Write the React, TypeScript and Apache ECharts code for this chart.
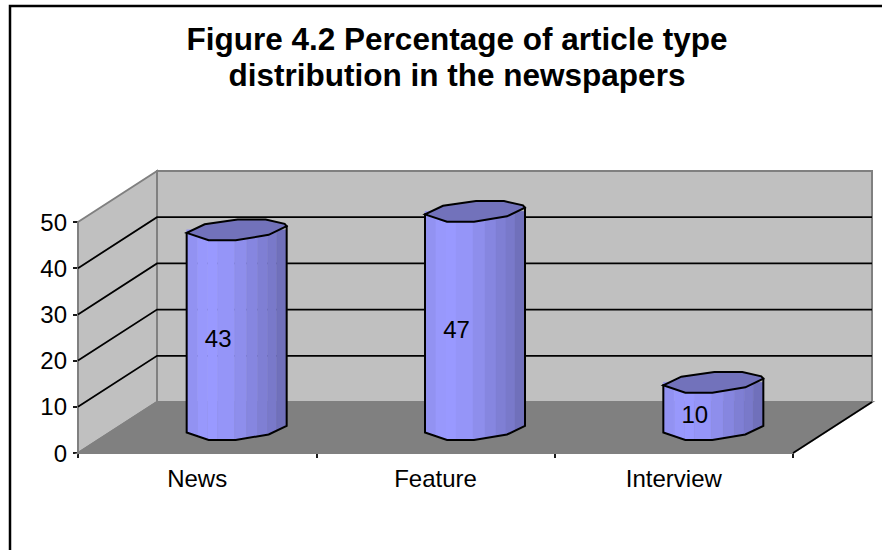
import React, { useEffect, useRef } from "react";
import * as echarts from "echarts";

const titleLines = ["Figure 4.2 Percentage of article type", "distribution in the newspapers"];
const categories = ["News", "Feature", "Interview"];
const values = [43, 47, 10];
const gridValues = [10, 20, 30, 40];

const DEPTH_X = 79;
const DEPTH_Y = -51;
const FONT = '"Liberation Sans", Arial, sans-serif';

// Outline of the faceted cylinder, relative to its centre
const frontEdge = [[-50, 3], [-28, 10.4], [-1, 10.4], [32, 5], [50, -3.6]];
const backEdge = [[50, -3.6], [48, -6], [29, -10.3], [1, -10.3], [-32, -5.6], [-50, 2]];
const facets = [
  [-50, -39, "#9292f2"], [-39, -29, "#9898fc"], [-29, -19, "#9999ff"], [-19, -2, "#9595f8"],
  [-2, 10, "#8e8eec"], [10, 21, "#8686e0"], [21, 31, "#7f7fd4"], [31, 40, "#7979ca"], [40, 50, "#7070bb"],
];

function edgeY(x: number) {
  for (let i = 0; i < frontEdge.length - 1; i++) {
    const [x1, y1] = frontEdge[i];
    const [x2, y2] = frontEdge[i + 1];
    if (x >= x1 && x <= x2) return y1 + ((y2 - y1) * (x - x1)) / (x2 - x1);
  }
  return 0;
}

function renderWalls(params: any, api: any) {
  if (params.dataIndex !== 0) return { type: "group", children: [] };
  const cs = params.coordSys;
  const left = cs.x;
  const right = cs.x + cs.width;
  const y0 = api.coord([0, 0])[1];
  const yTop = api.coord([0, 50])[1];
  const gx = left + DEPTH_X;
  const rx = right + DEPTH_X;
  const poly = (points: number[][], fill: string) => ({
    type: "polygon", shape: { points }, style: { fill, stroke: "#808080", lineWidth: 2 },
  });
  const line = (points: number[][], stroke: string, lineWidth: number) => ({
    type: "polyline", shape: { points }, style: { fill: "none", stroke, lineWidth },
  });
  return {
    type: "group",
    children: [
      poly([[gx, yTop + DEPTH_Y], [rx, yTop + DEPTH_Y], [rx, y0 + DEPTH_Y], [gx, y0 + DEPTH_Y]], "#c0c0c0"),
      poly([[left, yTop], [gx, yTop + DEPTH_Y], [gx, y0 + DEPTH_Y], [left, y0]], "#c0c0c0"),
      poly([[left, y0], [gx, y0 + DEPTH_Y], [rx, y0 + DEPTH_Y], [right, y0]], "#808080"),
      line([[right, y0], [rx, y0 + DEPTH_Y]], "#000000", 1.5),
      ...gridValues.map((v) => {
        const y = api.coord([0, v])[1];
        return line([[left, y], [gx, y + DEPTH_Y], [rx, y + DEPTH_Y]], "#000000", 1.8);
      }),
    ],
  };
}

function renderBar(_params: any, api: any) {
  const i = api.value(0);
  const v = api.value(1);
  const base = api.coord([i, 0]);
  const top = api.coord([i, v]);
  const mid = api.coord([i, v / 2]);
  const cx = base[0] + DEPTH_X / 2;
  const by = base[1] + DEPTH_Y / 2 + 2;
  const ty = top[1] + DEPTH_Y / 2 + 1;
  const at = (p: number[], y: number) => [cx + p[0], y + p[1]];

  const faces = facets.map(([a, b, fill]) => {
    const xa = a as number;
    const xb = b as number;
    const inner = frontEdge.filter((p) => p[0] > xa && p[0] < xb).map((p) => at(p, by));
    return {
      type: "polygon",
      shape: {
        points: [
          [cx + xa, ty],
          [cx + xb, ty],
          [cx + xb, by + edgeY(xb)],
          ...inner.reverse(),
          [cx + xa, by + edgeY(xa)],
        ],
      },
      style: { fill: fill as string, stroke: fill as string, lineWidth: 0.5 },
    };
  });
  const outline = [
    ...frontEdge.map((p) => at(p, by)),
    at(frontEdge[frontEdge.length - 1], ty),
    at(frontEdge[0], ty),
  ];
  const cap = [...frontEdge, ...backEdge.slice(1, -1)].map((p) => at(p, ty));
  return {
    type: "group",
    children: [
      ...faces,
      { type: "polygon", shape: { points: outline }, style: { fill: "none", stroke: "#000000", lineWidth: 2 } },
      { type: "polygon", shape: { points: cap }, style: { fill: "#7272bb", stroke: "#000000", lineWidth: 2 } },
      {
        type: "text",
        x: base[0] + 21,
        y: mid[1] - 15,
        style: {
          text: String(v), fill: "#000000", font: `24px ${FONT}`, align: "center", verticalAlign: "middle",
        },
      },
    ],
  };
}

export default function App() {
  const ref = useRef<HTMLDivElement>(null);
  useEffect(() => {
    document.body.style.margin = "0";
    const chart = echarts.init(ref.current!, undefined, { renderer: "svg" });
    chart.setOption({
      animation: false,
      backgroundColor: "#ffffff",
      title: {
        text: titleLines.join("\n"),
        left: 452,
        top: 16,
        textAlign: "center",
        textStyle: { fontFamily: FONT, fontWeight: "bold", fontSize: 31.5, lineHeight: 36, color: "#000000" },
      },
      grid: { left: 78, top: 222, width: 715, height: 231 },
      xAxis: {
        type: "category",
        data: categories,
        axisLine: { lineStyle: { color: "#000000", width: 2 } },
        axisTick: { show: true, length: 5, lineStyle: { color: "#000000", width: 1.8 } },
        axisLabel: { color: "#000000", fontFamily: FONT, fontSize: 24, margin: 13 },
        splitLine: { show: false },
      },
      yAxis: {
        type: "value",
        min: 0,
        max: 50,
        interval: 10,
        axisLine: { show: true, lineStyle: { color: "#000000", width: 2 } },
        axisTick: { show: true, length: 5, lineStyle: { color: "#000000", width: 1.8 } },
        axisLabel: { color: "#000000", fontFamily: FONT, fontSize: 24, margin: 11 },
        splitLine: { show: false },
      },
      graphic: [
        {
          type: "polyline",
          z: 10,
          shape: { points: [[10, 550], [10, 6], [882, 6]] },
          style: { fill: "none", stroke: "#000000", lineWidth: 2.5 },
        },
      ],
      series: [
        {
          type: "custom",
          z: 1,
          silent: true,
          renderItem: renderWalls,
          data: [[0, 0]],
        },
        {
          type: "custom",
          z: 3,
          silent: true,
          renderItem: renderBar,
          data: values.map((v, i) => [i, v]),
        },
      ],
    });
    return () => chart.dispose();
  }, []);
  return <div ref={ref} style={{ width: 882, height: 550 }} />;
}
